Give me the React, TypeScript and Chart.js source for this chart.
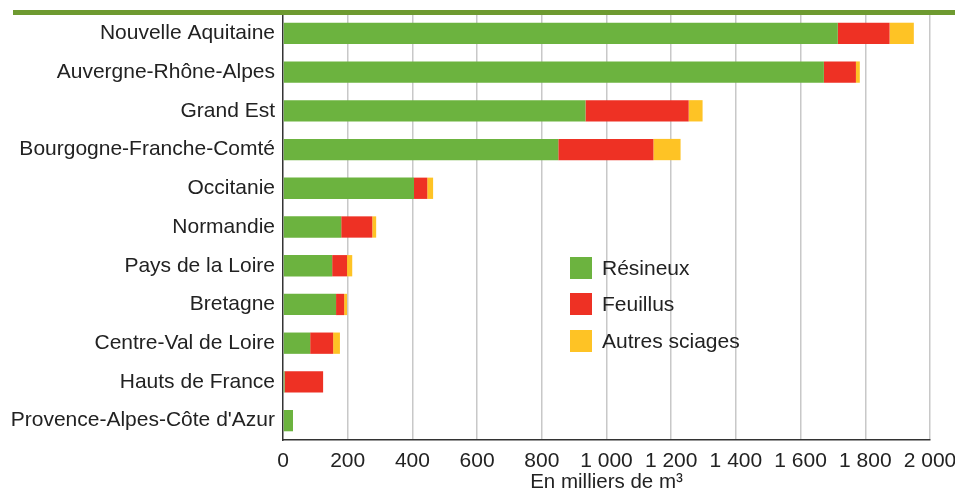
import React, { useEffect, useRef } from "react";
import { Chart, registerables } from "chart.js";

Chart.register(...registerables);

const categories = [
  "Nouvelle Aquitaine",
  "Auvergne-Rhône-Alpes",
  "Grand Est",
  "Bourgogne-Franche-Comté",
  "Occitanie",
  "Normandie",
  "Pays de la Loire",
  "Bretagne",
  "Centre-Val de Loire",
  "Hauts de France",
  "Provence-Alpes-Côte d'Azur",
];
const resineux = [1715, 1672, 935, 851, 405, 180, 152, 164, 84, 5, 31];
const feuillus = [160, 99, 319, 294, 41, 96, 46, 25, 71, 119, 0];
const autres = [75, 12, 43, 84, 18, 12, 16, 9, 21, 0, 0];
const seriesNames = ["Résineux", "Feuillus", "Autres sciages"];
const seriesColors = ["#6cb33f", "#ee3124", "#fec325"];
const xTickLabels: Record<number, string> = {
  0: "0", 200: "200", 400: "400", 600: "600", 800: "800", 1000: "1 000",
  1200: "1 200", 1400: "1 400", 1600: "1 600", 1800: "1 800", 2000: "2 000",
};
const axisTitle = "En milliers de m³";

const FONT = "'Liberation Sans', Arial, sans-serif";

export default function App() {
  const ref = useRef<HTMLCanvasElement | null>(null);
  useEffect(() => {
    document.body.style.margin = "0";
    const canvas = ref.current!;
    const legendPlugin = {
      id: "customLegend",
      afterDraw(chart: any) {
        const ctx = chart.ctx;
        ctx.save();
        const x0 = 570;
        const ys = [268, 304, 341];
        chart.data.datasets.forEach((ds: any, i: number) => {
          ctx.fillStyle = ds.backgroundColor;
          ctx.fillRect(x0, ys[i] - 11, 22, 22);
          ctx.fillStyle = "#222";
          ctx.font = `21px ${FONT}`;
          ctx.textBaseline = "middle";
          ctx.textAlign = "left";
          ctx.fillText(ds.label, x0 + 32, ys[i] + 1);
        });
        ctx.fillStyle = "#6e9a30";
        ctx.fillRect(13, 10, 942, 5);
        ctx.restore();
      },
    };
    const chart = new Chart(canvas, {
      type: "bar",
      data: {
        labels: categories,
        datasets: [resineux, feuillus, autres].map((d, i) => ({
          label: seriesNames[i],
          data: d,
          backgroundColor: seriesColors[i],
          borderWidth: 0,
          barPercentage: 0.55,
          categoryPercentage: 1,
        })),
      },
      options: {
        indexAxis: "y",
        animation: false,
        responsive: false,
        layout: { padding: { top: 14, right: 25, left: 0, bottom: 0 } },
        plugins: { legend: { display: false }, tooltip: { enabled: false } },
        scales: {
          x: {
            stacked: true,
            min: 0,
            max: 2000,
            ticks: {
              stepSize: 200,
              color: "#222",
              font: { family: FONT, size: 21 },
              padding: 9,
              maxRotation: 0,
              autoSkip: false,
              callback: (v: any) => xTickLabels[v as number] ?? "",
            },
            grid: {
              color: (c: any) => (c.tick && c.tick.value === 0 ? "rgba(0,0,0,0)" : "#c8c8c8"),
              lineWidth: 1.5,
              drawTicks: false,
            },
            border: { color: "#333", width: 1.5 },
            title: {
              display: true,
              text: axisTitle,
              color: "#222",
              font: { family: FONT, size: 20.5 },
              padding: { top: 0, bottom: -4 },
            },
            afterFit: (s: any) => { s.height = 51; s.paddingLeft = 0; s.paddingRight = 0; },
          },
          y: {
            stacked: true,
            ticks: {
              color: "#222",
              font: { family: FONT, size: 21 },
              padding: 8,
              autoSkip: false,
            },
            grid: { display: false, drawTicks: false },
            border: { color: "#333", width: 1.5 },
            afterFit: (s: any) => { s.width = 283; s.paddingTop = 0; s.paddingBottom = 0; },
          },
        },
      },
      plugins: [legendPlugin],
    });
    return () => chart.destroy();
  }, []);
  return <canvas ref={ref} width={955} height={491} style={{ display: "block" }} />;
}
